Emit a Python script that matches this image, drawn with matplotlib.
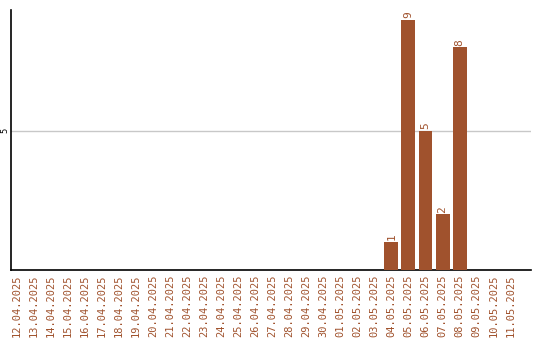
import matplotlib
matplotlib.use("Agg")
import matplotlib.pyplot as plt
import numpy as np

# Data

dates = [
    "12.04.2025", "13.04.2025", "14.04.2025", "15.04.2025", "16.04.2025",
    "17.04.2025", "18.04.2025", "19.04.2025", "20.04.2025", "21.04.2025",
    "22.04.2025", "23.04.2025", "24.04.2025", "25.04.2025", "26.04.2025",
    "27.04.2025", "28.04.2025", "29.04.2025", "30.04.2025", "01.05.2025",
    "02.05.2025", "03.05.2025", "04.05.2025", "05.05.2025", "06.05.2025",
    "07.05.2025", "08.05.2025", "09.05.2025", "10.05.2025", "11.05.2025",
]
counts = [0] * 22 + [1, 9, 5, 2, 8, 0, 0, 0]
yticks = [5]

brown = "#A0522D"


def main():
    fig = plt.figure(figsize=(5.4, 3.4), dpi=100)
    ax = fig.add_axes([0.0204, 0.206, 0.963, 0.765])

    x = np.arange(len(dates))
    ax.bar(x, counts, width=0.82, color=brown, zorder=3)

    # value labels above non-empty bars
    for xi, c in zip(x, counts):
        if c > 0:
            ax.text(xi, c + 0.06, str(c), rotation=90, ha="center", va="bottom",
                    fontsize=8, color=brown, family="DejaVu Sans Mono")

    ax.set_xlim(-0.35, 30.2)
    ax.set_ylim(0, 9.35)

    ax.set_xticks(x)
    ax.set_xticklabels(dates, rotation=90, fontsize=7.5, color=brown,
                       family="DejaVu Sans Mono")
    ax.set_yticks(yticks)
    ax.set_yticklabels([str(v) for v in yticks], rotation=90, fontsize=6,
                       va="center")
    ax.tick_params(axis="both", length=0, pad=3)
    ax.tick_params(axis="y", pad=1)

    ax.grid(axis="y", color="#c8c8c8", linewidth=1, zorder=0)
    for s in ["top", "right"]:
        ax.spines[s].set_visible(False)
    ax.spines["left"].set_linewidth(1.2)
    ax.spines["bottom"].set_linewidth(1.2)

    plt.savefig("out.png", dpi=100)
    plt.close()


if __name__ == "__main__":
    main()
